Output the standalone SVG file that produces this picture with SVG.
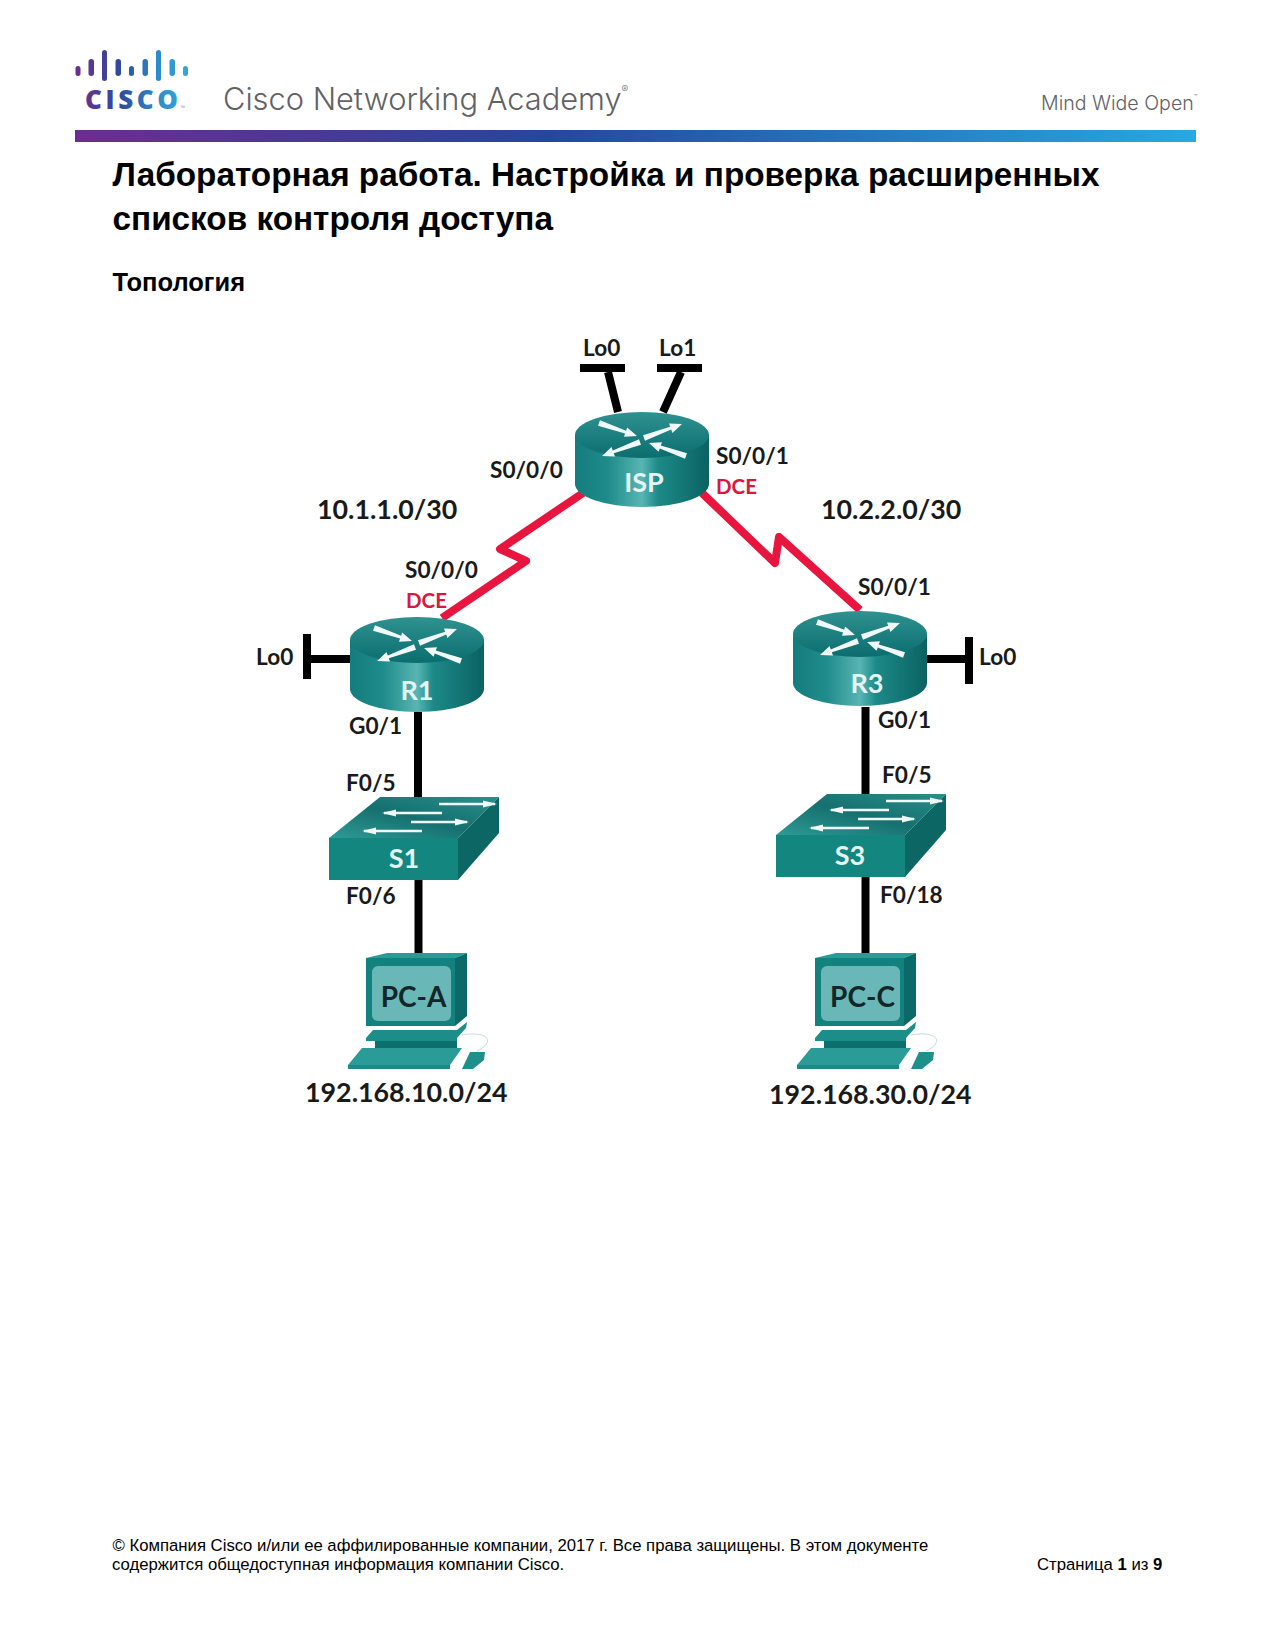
<svg xmlns="http://www.w3.org/2000/svg" xmlns:xlink="http://www.w3.org/1999/xlink" width="1275" height="1651" viewBox="0 0 1275 1651">
<style>
.t{font-family:"Liberation Sans",Arial,sans-serif;fill:#000}
.h1{font-size:33.3px;font-weight:700}
.h2{font-size:25.5px;font-weight:700}
.f{font-size:16.73px}
.l{font-family:Lato,"Open Sans",sans-serif;font-size:22.6px;font-weight:700;fill:#1a1a1a}
.big{font-size:26.8px}
.dce{fill:#d8183c;font-size:20.5px}
.n{font-family:Lato,"Open Sans",sans-serif;font-size:27px;font-weight:700;fill:#e4f5f4;text-anchor:middle}
.pc{font-family:Lato,"Open Sans",sans-serif;font-size:28px;font-weight:700;fill:#13262a;text-anchor:middle}
.k{fill:none;stroke:#000;stroke-width:8}
.r{fill:none;stroke:#e8163f;stroke-width:8;stroke-linejoin:round}
.g{font-family:Inter,"Liberation Sans",sans-serif;font-weight:300;fill:#616266}
.w{fill:#f1f9f8}
</style>
<defs>
<linearGradient id="bar" x1="0" x2="1" y1="0" y2="0"><stop offset="0" stop-color="#6e2c90"/><stop offset=".42" stop-color="#25479b"/><stop offset="1" stop-color="#27a9e1"/></linearGradient>
<linearGradient id="logo" gradientUnits="userSpaceOnUse" x1="77" x2="185" y1="0" y2="0"><stop offset="0" stop-color="#6b2f8f"/><stop offset=".4" stop-color="#2f4a9c"/><stop offset=".75" stop-color="#2c8ccb"/><stop offset="1" stop-color="#35a6d6"/></linearGradient>
<linearGradient id="rTop" x1="0" x2="0" y1="0" y2="1"><stop offset="0" stop-color="#2f9291"/><stop offset="1" stop-color="#0b6d6e"/></linearGradient>
<linearGradient id="rSide" x1="0" x2="1" y1="0" y2="0"><stop offset="0" stop-color="#147c7c"/><stop offset=".25" stop-color="#1f8c8b"/><stop offset=".5" stop-color="#58b5b3"/><stop offset=".62" stop-color="#1c8a88"/><stop offset="1" stop-color="#0b6262"/></linearGradient>
<linearGradient id="sTop" x1="0" x2="1" y1="1" y2="0"><stop offset="0" stop-color="#2f9a95"/><stop offset=".5" stop-color="#15706f"/><stop offset="1" stop-color="#2a8f8b"/></linearGradient>
<g id="router">
<path d="M-67,23V72A67,23 0 0 0 67,72V23Z" fill="url(#rSide)"/>
<ellipse cx="0" cy="23" rx="67" ry="23" fill="url(#rTop)"/>
<polygon class="w" points="-42,8.200 -44,13.800 -16.900,21.500 -18,24.800 -5,24 -14.800,15.400 -15.900,18.700"/>
<polygon class="w" points="3,28.800 1,23.200 28.200,14.800 27,11.500 40,12 30.400,20.900 29.200,17.600"/>
<polygon class="w" points="-1,32.800 -3,27.200 -29.200,38.400 -30.400,35.100 -40,44 -27,44.500 -28.200,41.200"/>
<polygon class="w" points="45,41.200 43,46.800 17.800,36.400 16.600,39.700 7,31 20,30.300 18.800,33.600"/>
</g>
<g id="switch">
<polygon points="51,0 170,0 129,41 0,41" fill="url(#sTop)"/>
<polygon points="0,41 129,41 129,83 0,83" fill="#13867f"/>
<polygon points="129,41 170,0 170,36 129,83" fill="#0c6663"/>
<g fill="none" stroke="#f1f9f8" stroke-width="2.500">
<path d="M110,7H166"/><path d="M113,16H55"/><path d="M82,25H138"/><path d="M93,34H35"/>
</g>
<g fill="#f1f9f8">
<polygon points="168,7 154,3.500 154,10.500"/><polygon points="53,16 67,12.500 67,19.500"/><polygon points="140,25 126,21.500 126,28.500"/><polygon points="33,34 47,30.500 47,37.500"/>
</g>
</g>
<g id="pc">
<polygon points="0,5 21,0 101,0 89,5" fill="#2a9b97"/>
<rect x="0" y="5" width="89" height="68" fill="#13827f"/>
<polygon points="89,5 101,0 101,63 89,73" fill="#0b6a69"/>
<rect x="6" y="13" width="79" height="55" rx="6" fill="#69b7b6"/>
<polygon points="0,85 7,77 91,77 101,69 100,75 91,85 91,88 0,88" fill="#1d8d8a"/>
<rect x="9" y="88" width="82" height="8" fill="#0d6f6e"/>
<polygon points="-4,95 96,95 84,112 -18,112" fill="#2a9b97"/>
<polygon points="-18,112 84,112 84,116 -18,116" fill="#1b8b88"/>
<polygon points="96,116 104,99 119,99 118,107 107,116" fill="#1f8f8b"/>
<path d="M96,82C124,77 129,90 111,98" fill="none" stroke="#c3dcdc" stroke-width="1"/>
</g>
</defs>
<rect width="1275" height="1651" fill="#fff"/>
<g id="header">
<g fill="url(#logo)">
<rect x="75.500" y="66" width="5" height="10" rx="2.500"/>
<rect x="88.500" y="59" width="5.500" height="17" rx="2.700"/>
<rect x="102" y="50" width="5" height="31" rx="2.500"/>
<rect x="115.500" y="59" width="5.500" height="17" rx="2.700"/>
<rect x="129" y="66" width="5" height="10" rx="2.500"/>
<rect x="142.500" y="59" width="5.500" height="17" rx="2.700"/>
<rect x="156" y="50" width="5" height="31" rx="2.500"/>
<rect x="169.500" y="59" width="5.500" height="17" rx="2.700"/>
<rect x="183" y="66" width="5" height="10" rx="2.500"/>
<text x="85" y="109" font-family="'Open Sans',Lato,sans-serif" font-weight="800" font-size="26" textLength="93" lengthAdjust="spacing">CISCO</text>
</g>
<text x="180" y="109" font-family="'Liberation Sans',sans-serif" font-size="5" fill="#4a8fc0">™</text>
<text class="g" x="223" y="110" font-size="30.800">Cisco Networking Academy<tspan font-size="10" dy="-17">®</tspan></text>
<text class="g" x="1041" y="110" font-size="19.600">Mind Wide Open<tspan font-size="6" dy="-11">™</tspan></text>
<rect x="75" y="130" width="1121" height="12" fill="url(#bar)"/>
</g>
<g id="title">
<text class="t h1" x="112.500" y="186">Лабораторная работа. Настройка и проверка расширенных</text>
<text class="t h1" x="112.500" y="230">списков контроля доступа</text>
<text class="t h2" x="112.500" y="291">Топология</text>
</g>
<g id="connectors">
<path class="k" d="M580,368H625M608,372L618,412"/>
<path class="k" d="M657,368H702M681,372L663,412"/>
<path class="k" d="M307,634V679M311,659H350"/>
<path class="k" d="M969,637V684M927,659H965"/>
<path class="k" d="M418,712V798"/>
<path class="k" d="M418.500,880V953"/>
<path class="k" d="M865.500,707V795"/>
<path class="k" d="M865.500,876V953"/>
<path class="r" d="M583,493L500,549L526,561L442,618"/>
<path class="r" d="M702,493L775,563L779,537L860,610"/>
</g>
<g id="ISP"><use xlink:href="#router" href="#router" transform="translate(642,412)"/><text class="n" x="644" y="492">ISP</text></g>
<g id="R1"><use xlink:href="#router" href="#router" transform="translate(417,617)"/><text class="n" x="417" y="700">R1</text></g>
<g id="R3"><use xlink:href="#router" href="#router" transform="translate(860,611)"/><text class="n" x="867" y="693">R3</text></g>
<g id="S1"><use xlink:href="#switch" href="#switch" transform="translate(329,797)"/><text class="n" x="404" y="868">S1</text></g>
<g id="S3"><use xlink:href="#switch" href="#switch" transform="translate(776,794)"/><text class="n" x="850" y="865">S3</text></g>
<g id="PC-A"><use xlink:href="#pc" href="#pc" transform="translate(366,953)"/><text class="pc" x="413.500" y="1007">PC-A</text></g>
<g id="PC-C"><use xlink:href="#pc" href="#pc" transform="translate(815,953)"/><text class="pc" x="862.500" y="1007">PC-C</text></g>
<g id="labels" transform="translate(-1,0.500)">
<text class="l" x="584" y="355">Lo0</text>
<text class="l" x="660" y="355">Lo1</text>
<text class="l" x="491" y="477">S0/0/0</text>
<text class="l" x="717" y="463">S0/0/1</text>
<text class="l dce" x="717" y="493">DCE</text>
<text class="l big" x="318" y="518">10.1.1.0/30</text>
<text class="l big" x="822" y="518">10.2.2.0/30</text>
<text class="l" x="406" y="577">S0/0/0</text>
<text class="l dce" x="407" y="607">DCE</text>
<text class="l" x="859" y="594">S0/0/1</text>
<text class="l" x="257" y="664">Lo0</text>
<text class="l" x="980" y="664">Lo0</text>
<text class="l" x="350" y="733">G0/1</text>
<text class="l" x="879" y="727">G0/1</text>
<text class="l" x="347" y="790">F0/5</text>
<text class="l" x="883" y="782">F0/5</text>
<text class="l" x="347" y="903">F0/6</text>
<text class="l" x="881" y="902">F0/18</text>
<text class="l big" x="306" y="1101">192.168.10.0/24</text>
<text class="l big" x="770" y="1103">192.168.30.0/24</text>
</g>
<g id="footer">
<text class="t f" x="112.500" y="1551">© Компания Cisco и/или ее аффилированные компании, 2017 г. Все права защищены. В этом документе</text>
<text class="t f" x="112" y="1570">содержится общедоступная информация компании Cisco.</text>
<text class="t f" x="1037" y="1570">Страница <tspan font-weight="700">1</tspan> из <tspan font-weight="700">9</tspan></text>
</g>
</svg>
